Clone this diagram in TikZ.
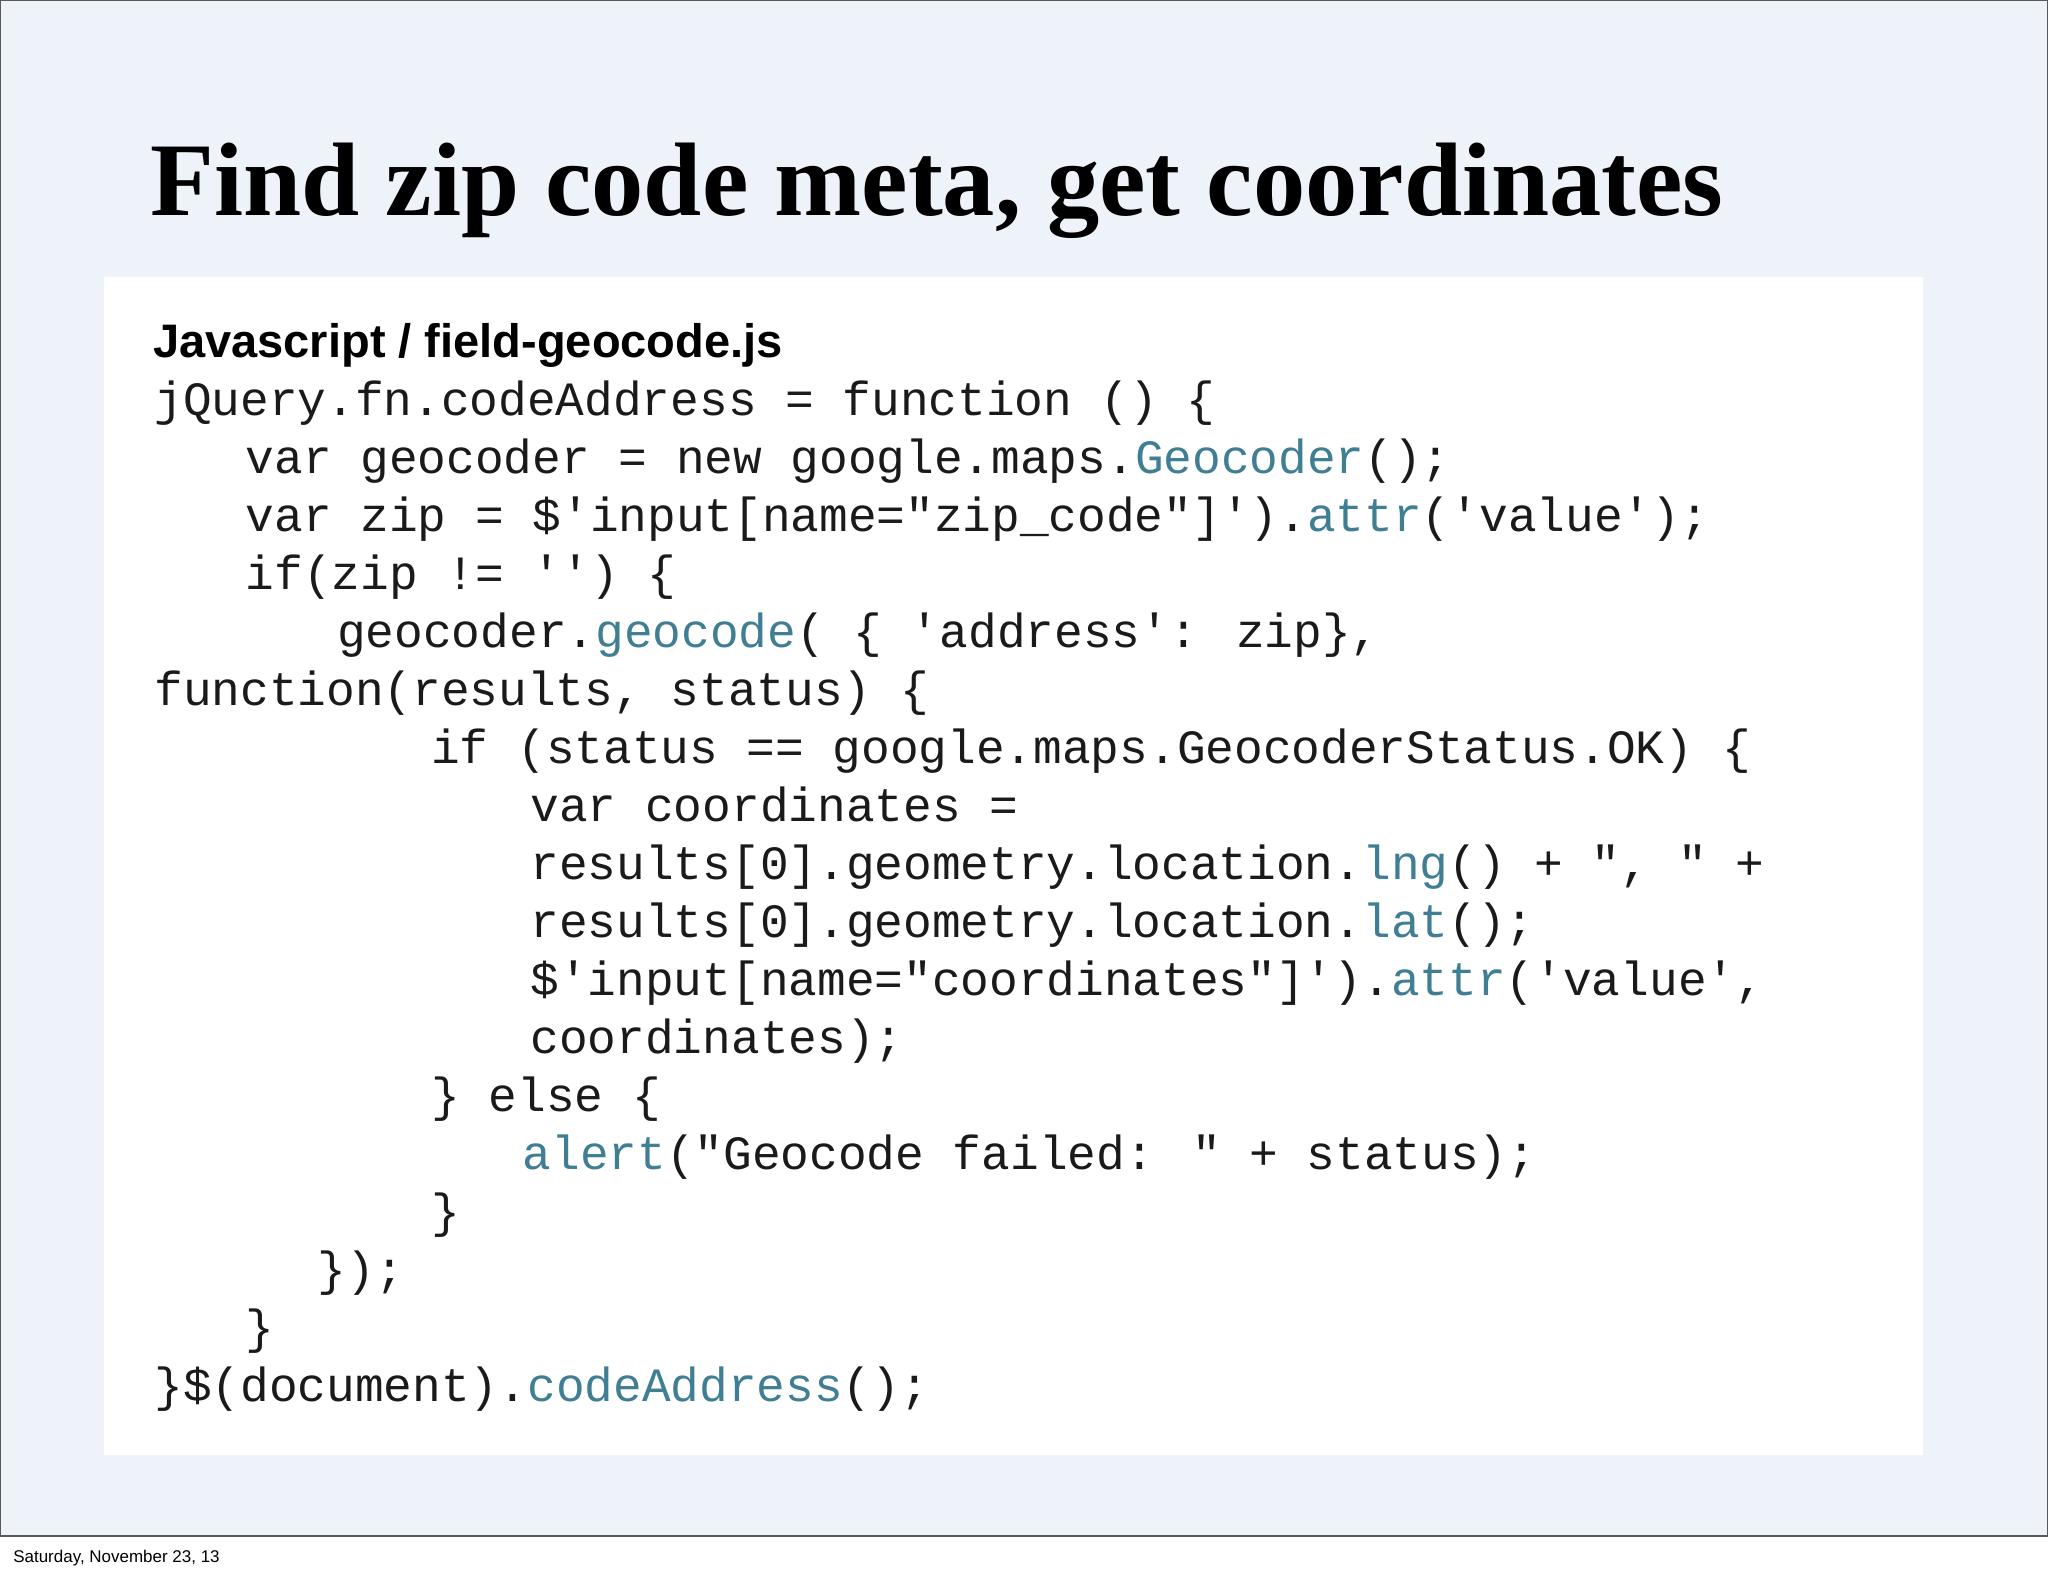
\documentclass[tikz,border=0pt]{standalone}
\usepackage{fontspec}
\setmainfont{Liberation Serif}
\newfontfamily\codefont{Liberation Mono}
\newfontfamily\headfont{Liberation Sans}
\definecolor{bgblue}{HTML}{EEF3FA}
\definecolor{teal}{HTML}{3F7E93}
\definecolor{codeink}{HTML}{1A1A1A}
\newcommand{\kw}[1]{\textcolor{teal}{#1}}
\begin{document}
\begin{tikzpicture}[x=1pt,y=-1pt,
  codeline/.style={anchor=base west,inner sep=0pt,font=\codefont\fontsize{36.6}{40}\selectfont,text=codeink}]
\useasboundingbox (0,0) rectangle (1568,1206);
\fill[white] (0,0) rectangle (1568,1206);
\fill[bgblue] (0,0) rectangle (1568,1176);
\draw[gray!70!black,line width=1pt] (0.5,0.5) rectangle (1567.5,1176);
\node[anchor=base west,inner sep=0pt,font=\bfseries\fontsize{80}{90}\selectfont] (title) at (115,165) {Find zip code meta, get coordinates};
\fill[white] (80,212) rectangle (1472,1114);
\node[anchor=base west,inner sep=0pt,font=\headfont\bfseries\fontsize{36}{40}\selectfont] (head) at (117,274) {Javascript / field-geocode.js};
\node[codeline] (l1) at (118,318) {jQuery.fn.codeAddress = function () \{};
\node[codeline] (l2) at (188,362.4) {var geocoder = new google.maps.\kw{Geocoder}();};
\node[codeline] (l3) at (188,406.8) {var zip = \$'input[name="zip\_code"]').\kw{attr}('value');};
\node[codeline] (l4) at (188,451.2) {if(zip != '') \{};
\node[codeline] (l5) at (258,495.6) {geocoder.\kw{geocode}( \{ 'address': zip\},};
\node[codeline] (l6) at (118,540) {function(results, status) \{};
\node[codeline] (l7) at (330,584.4) {if (status == google.maps.GeocoderStatus.OK) \{};
\node[codeline] (l8) at (406,628.8) {var coordinates =};
\node[codeline] (l9) at (406,673.2) {results[0].geometry.location.\kw{lng}() + ", " +};
\node[codeline] (l10) at (406,717.6) {results[0].geometry.location.\kw{lat}();};
\node[codeline] (l11) at (406,762) {\$'input[name="coordinates"]').\kw{attr}('value',};
\node[codeline] (l12) at (406,806.4) {coordinates);};
\node[codeline] (l13) at (330,850.8) {\} else \{};
\node[codeline] (l14) at (400,895.2) {\kw{alert}("Geocode failed: " + status);};
\node[codeline] (l15) at (330,939.6) {\}};
\node[codeline] (l16) at (243,984) {\});};
\node[codeline] (l17) at (188,1028.4) {\}};
\node[codeline] (l18) at (118,1072.8) {\}\$(document).\kw{codeAddress}();};
\node[anchor=base west,inner sep=0pt,font=\headfont\fontsize{13}{15}\selectfont] (foot) at (10,1196) {Saturday, November 23, 13};
\end{tikzpicture}
\end{document}
